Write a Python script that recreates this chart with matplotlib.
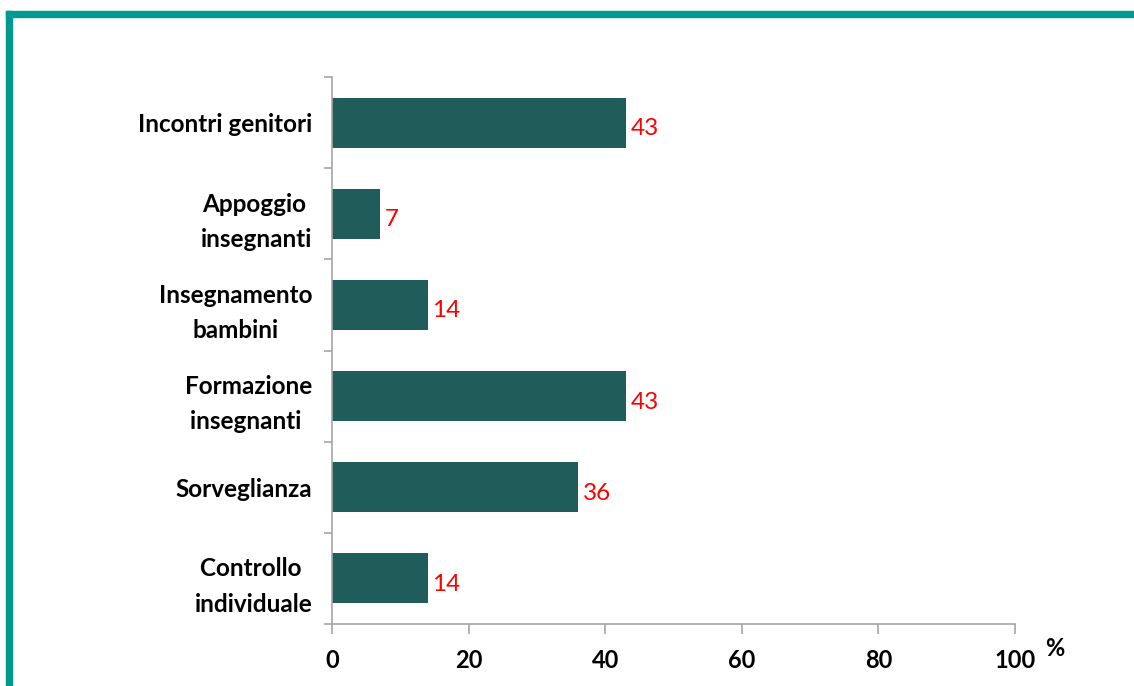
import matplotlib.pyplot as plt
from matplotlib.patches import Rectangle
import numpy as np

categories = ["Incontri genitori", "Appoggio \ninsegnanti", "Insegnamento\nbambini",
              "Formazione\ninsegnanti ", "Sorveglianza", "Controllo \nindividuale"]
values = [43, 7, 14, 43, 36, 14]
xticks = [0, 20, 40, 60, 80, 100]

bar_color = "#1F5C5A"
teal = "#009990"
axis_grey = "#A6A6A6"

plt.rcParams['font.family'] = ['Lato', 'DejaVu Sans']

fig = plt.figure(figsize=(11.34, 6.86), dpi=100)
ax = fig.add_axes([332/1134, 1 - 624/686, (1015 - 332)/1134, (624 - 77)/686])

y = np.arange(len(categories))
ax.barh(y, values, height=0.55, color=bar_color)
ax.set_ylim(len(categories) - 0.5, -0.5)
ax.set_xlim(0, 100)

for yi, v in zip(y, values):
    ax.text(v + 0.7, yi + 0.065, str(v), color="red", fontsize=17.5, va="center", ha="left")

ax.set_yticks(y)
ax.set_yticklabels(categories, fontsize=17.5, fontweight="bold", linespacing=1.65,
                   multialignment="center")
ax.set_yticks(np.arange(-0.5, len(categories) + 0.5, 1), minor=True)
ax.tick_params(axis="y", which="major", length=0, pad=14)
ax.tick_params(axis="y", which="minor", length=6, color=axis_grey, width=1.2)

ax.set_xticks(xticks)
ax.set_xticklabels([str(t) for t in xticks], fontsize=17, fontweight="bold")
ax.tick_params(axis="x", length=7, color=axis_grey, width=1.2, pad=11)

for s in ["top", "right"]:
    ax.spines[s].set_visible(False)
for s in ["left", "bottom"]:
    ax.spines[s].set_color(axis_grey)
    ax.spines[s].set_linewidth(1.2)

fig.text(1045/1134, 1 - 649/686, "%", fontsize=17, fontweight="bold", ha="left", va="center")

# teal frame on top and left
fig.patches.append(Rectangle((6/1134, 1 - 17/686), 1, 6/686, transform=fig.transFigure,
                             color=teal, zorder=10))
fig.patches.append(Rectangle((6/1134, 0), 6/1134, 1 - 11/686, transform=fig.transFigure,
                             color=teal, zorder=10))

fig.savefig("out.png", dpi=100)
